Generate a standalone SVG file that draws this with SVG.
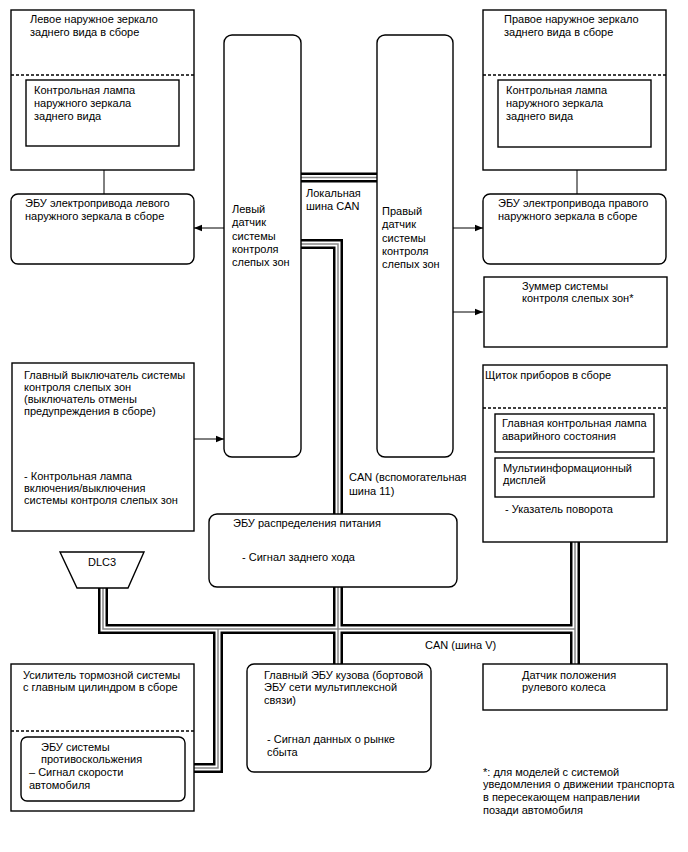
<svg xmlns="http://www.w3.org/2000/svg" width="688" height="852" viewBox="0 0 688 852">
<style>
text{font-family:"Liberation Sans",Arial,sans-serif;font-size:11px;fill:#000}
.box{fill:#fff;stroke:#000;stroke-width:1.4}
.dash{fill:none;stroke:#000;stroke-width:1.4;stroke-dasharray:3,2}
.arr{fill:none;stroke:#000;stroke-width:1;marker-end:url(#ah)}
.bo{fill:none;stroke:#000;stroke-width:10}
.bw{fill:none;stroke:#fff;stroke-width:5}
.bc{fill:none;stroke:#888;stroke-width:1.5}
</style>
<defs>
<marker id="ah" viewBox="0 0 10 10" refX="10" refY="5" markerWidth="8" markerHeight="8" markerUnits="userSpaceOnUse" orient="auto">
<path d="M0,1 L10,5 L0,9 Z" fill="#000"/>
</marker>
<path id="bus1" d="M301,177.5 H377"/>
<path id="bus2" d="M301,244 H338 V514"/>
<path id="bus3" d="M103,588 V629 H575"/>
<path id="bus4" d="M575,542 V664"/>
<path id="bus5" d="M218,629 V768 H185"/>
<path id="bus6" d="M338,587 V664"/>
</defs>
<rect width="688" height="852" fill="#fff"/>

<g id="connectors">
<use href="#bus1" class="bo"/><use href="#bus2" class="bo"/><use href="#bus3" class="bo"/><use href="#bus4" class="bo"/><use href="#bus5" class="bo"/><use href="#bus6" class="bo"/>
<use href="#bus1" class="bw"/><use href="#bus2" class="bw"/><use href="#bus3" class="bw"/><use href="#bus4" class="bw"/><use href="#bus5" class="bw"/><use href="#bus6" class="bw"/>
<use href="#bus1" class="bc"/><use href="#bus2" class="bc"/><use href="#bus3" class="bc"/><use href="#bus4" class="bc"/><use href="#bus5" class="bc"/><use href="#bus6" class="bc"/>
<path class="arr" d="M104,194 V147"/>
<path class="arr" d="M577,194 V147"/>
<path class="arr" d="M224,228 H194"/>
<path class="arr" d="M453,228 H483"/>
<path class="arr" d="M453,312 H483"/>
<path class="arr" d="M194,439 H224"/>
<text x="306" y="197">Локальная</text>
<text x="306" y="210">шина CAN</text>
<text x="349" y="481">CAN (вспомогательная</text>
<text x="349" y="495">шина 11)</text>
<text x="425" y="649">CAN (шина V)</text>
</g>

<g id="left-mirror">
<rect class="box" x="11" y="10" width="183" height="160"/>
<line class="dash" x1="11" y1="75" x2="194" y2="75"/>
<text x="30" y="23">Левое наружное зеркало</text>
<text x="30" y="36">заднего вида в сборе</text>
<rect class="box" x="26" y="80" width="153" height="66"/>
<text x="34" y="94">Контрольная лампа</text>
<text x="34" y="107">наружного зеркала</text>
<text x="34" y="120">заднего вида</text>
</g>

<g id="right-mirror">
<rect class="box" x="483" y="10" width="183" height="160"/>
<line class="dash" x1="483" y1="75" x2="666" y2="75"/>
<text x="504" y="23">Правое наружное зеркало</text>
<text x="504" y="36">заднего вида в сборе</text>
<rect class="box" x="498" y="80" width="153" height="67"/>
<text x="506" y="94">Контрольная лампа</text>
<text x="506" y="107">наружного зеркала</text>
<text x="506" y="120">заднего вида</text>
</g>

<g id="left-ecu">
<rect class="box" x="11" y="194" width="183" height="70" rx="7"/>
<text x="25" y="207">ЭБУ электропривода левого</text>
<text x="25" y="220">наружного зеркала в сборе</text>
</g>

<g id="right-ecu">
<rect class="box" x="483" y="194" width="183" height="70" rx="7"/>
<text x="498" y="207">ЭБУ электропривода правого</text>
<text x="498" y="220">наружного зеркала в сборе</text>
</g>

<g id="left-sensor">
<rect class="box" x="224" y="35" width="77" height="422" rx="8"/>
<text x="232" y="213">Левый</text>
<text x="232" y="226">датчик</text>
<text x="232" y="240">системы</text>
<text x="232" y="253">контроля</text>
<text x="232" y="266">слепых зон</text>
</g>

<g id="right-sensor">
<rect class="box" x="377" y="35" width="76" height="422" rx="8"/>
<text x="382" y="215">Правый</text>
<text x="382" y="228">датчик</text>
<text x="382" y="242">системы</text>
<text x="382" y="255">контроля</text>
<text x="382" y="268">слепых зон</text>
</g>

<g id="buzzer">
<rect class="box" x="484" y="277" width="183" height="70"/>
<text x="522" y="290">Зуммер системы</text>
<text x="522" y="302">контроля слепых зон*</text>
</g>

<g id="main-switch">
<rect class="box" x="12" y="363" width="182" height="168"/>
<text x="24" y="379">Главный выключатель системы</text>
<text x="24" y="391">контроля слепых зон</text>
<text x="24" y="403">(выключатель отмены</text>
<text x="24" y="415">предупреждения в сборе)</text>
<text x="24" y="480">- Контрольная лампа</text>
<text x="24" y="492">включения/выключения</text>
<text x="24" y="504">системы контроля слепых зон</text>
</g>

<g id="cluster">
<rect class="box" x="483" y="365" width="184" height="177"/>
<line class="dash" x1="483" y1="408" x2="667" y2="408"/>
<text x="485" y="379">Щиток приборов в сборе</text>
<rect class="box" x="495" y="414" width="159" height="38"/>
<text x="502" y="427">Главная контрольная лампа</text>
<text x="502" y="440">аварийного состояния</text>
<rect class="box" x="495" y="458" width="159" height="39"/>
<text x="503" y="472">Мультиинформационный</text>
<text x="503" y="484">дисплей</text>
<text x="505" y="513">- Указатель поворота</text>
</g>

<g id="power-ecu">
<rect class="box" x="209" y="514" width="248" height="73" rx="8"/>
<text x="233" y="527">ЭБУ распределения питания</text>
<text x="242" y="561">- Сигнал заднего хода</text>
</g>

<g id="dlc3">
<path class="box" d="M60,552 H144 L128,588 H77 Z"/>
<text x="102" y="566" text-anchor="middle">DLC3</text>
</g>

<g id="brake">
<rect class="box" x="11" y="664" width="183" height="147"/>
<line class="dash" x1="11" y1="731" x2="194" y2="731"/>
<text x="23" y="679">Усилитель тормозной системы</text>
<text x="23" y="691">с главным цилиндром в сборе</text>
<rect class="box" x="21" y="737" width="164" height="64" rx="6"/>
<text x="41" y="751">ЭБУ системы</text>
<text x="41" y="763">противоскольжения</text>
<text x="29" y="776">– Сигнал скорости</text>
<text x="29" y="789">автомобиля</text>
</g>

<g id="body-ecu">
<rect class="box" x="247" y="664" width="184" height="108" rx="7"/>
<text x="264" y="679">Главный ЭБУ кузова (бортовой</text>
<text x="264" y="691">ЭБУ сети мультиплексной</text>
<text x="264" y="704">связи)</text>
<text x="267" y="743">- Сигнал данных о рынке</text>
<text x="267" y="756">сбыта</text>
</g>

<g id="steering">
<rect class="box" x="483" y="664" width="184" height="46"/>
<text x="522" y="679">Датчик положения</text>
<text x="522" y="691">рулевого колеса</text>
</g>

<g id="footnote">
<text x="483" y="776">*: для моделей с системой</text>
<text x="483" y="788">уведомления о движении транспорта</text>
<text x="483" y="801">в пересекающем направлении</text>
<text x="483" y="814">позади автомобиля</text>
</g>
</svg>
